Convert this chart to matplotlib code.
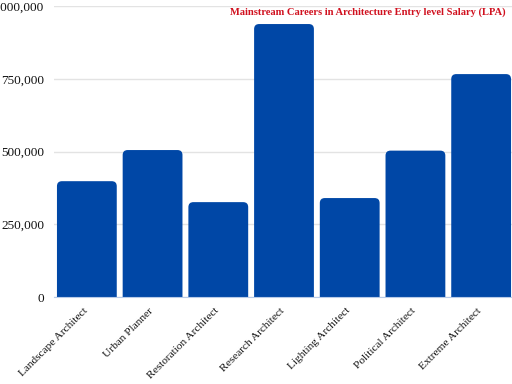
import matplotlib
matplotlib.use("Agg")
import matplotlib.pyplot as plt
from matplotlib.patches import PathPatch
from matplotlib.path import Path
from matplotlib.ticker import FuncFormatter
from matplotlib.transforms import ScaledTranslation

categories = ["Landscape Architect", "Urban Planner", "Restoration Architect",
              "Research Architect", "Lighting Architect", "Political Architect",
              "Extreme Architect"]
salaries = [398000, 505000, 326000, 938000, 340000, 503000, 766000]
yticks = [0, 250000, 500000, 750000, 1000000]
title = "Mainstream Careers in Architecture Entry level Salary (LPA)"

plt.rcParams['font.family'] = ['Liberation Serif', 'DejaVu Serif']
bar_color = '#0047a6'

fig = plt.figure(figsize=(5.12, 3.84), dpi=100)
ax = fig.add_axes([54/512, 1-297/384, 460/512, 291/384])

bars = ax.bar(range(len(categories)), salaries, width=0.91, color=bar_color)
ax.set_xlim(-0.5, len(categories) - 0.5)
ax.set_ylim(0, 1000000)

# rounded tops: replace each bar by a single path
fig.canvas.draw()
bbox = ax.get_window_extent()
xu = (ax.get_xlim()[1] - ax.get_xlim()[0]) / bbox.width
yu = (ax.get_ylim()[1] - ax.get_ylim()[0]) / bbox.height
rx, ry = 5 * xu, 5 * yu
for b in list(bars):
    x0, w, h = b.get_x(), b.get_width(), b.get_height()
    x1 = x0 + w
    b.set_visible(False)
    verts = [(x0, 0), (x0, h - ry), (x0, h), (x0 + rx, h),
             (x1 - rx, h), (x1, h), (x1, h - ry), (x1, 0), (x0, 0)]
    codes = [Path.MOVETO, Path.LINETO, Path.CURVE3, Path.CURVE3,
             Path.LINETO, Path.CURVE3, Path.CURVE3, Path.LINETO, Path.CLOSEPOLY]
    ax.add_patch(PathPatch(Path(verts, codes), facecolor=bar_color,
                           edgecolor='none', zorder=2))

ax.set_yticks(yticks)
ax.yaxis.set_major_formatter(FuncFormatter(lambda v, p: f"{int(v):,}"))
ax.set_xticks(range(len(categories)))
ax.set_xticklabels(categories, rotation=45, ha='right', rotation_mode='anchor',
                   fontsize=8.2, color='#111111')
ax.tick_params(axis='y', labelsize=9.5, length=0, pad=7, labelcolor='#111111')
ax.tick_params(axis='x', length=0, pad=6.5)
offset = ScaledTranslation(-4/100, 0, fig.dpi_scale_trans)
for lab in ax.get_xticklabels():
    lab.set_transform(lab.get_transform() + offset)
ax.grid(axis='y', color='#e3e3e3', linewidth=1)
ax.set_axisbelow(True)
for s in ['top', 'right', 'left']:
    ax.spines[s].set_visible(False)
ax.spines['bottom'].set_color('#b8cbe8')
ax.spines['bottom'].set_zorder(3)

fig.text(368/512, 1-12/384, title, color='#d0101e', fontsize=7.6, ha='center',
         va='center', fontweight='bold')

fig.savefig("out.png", dpi=100)
